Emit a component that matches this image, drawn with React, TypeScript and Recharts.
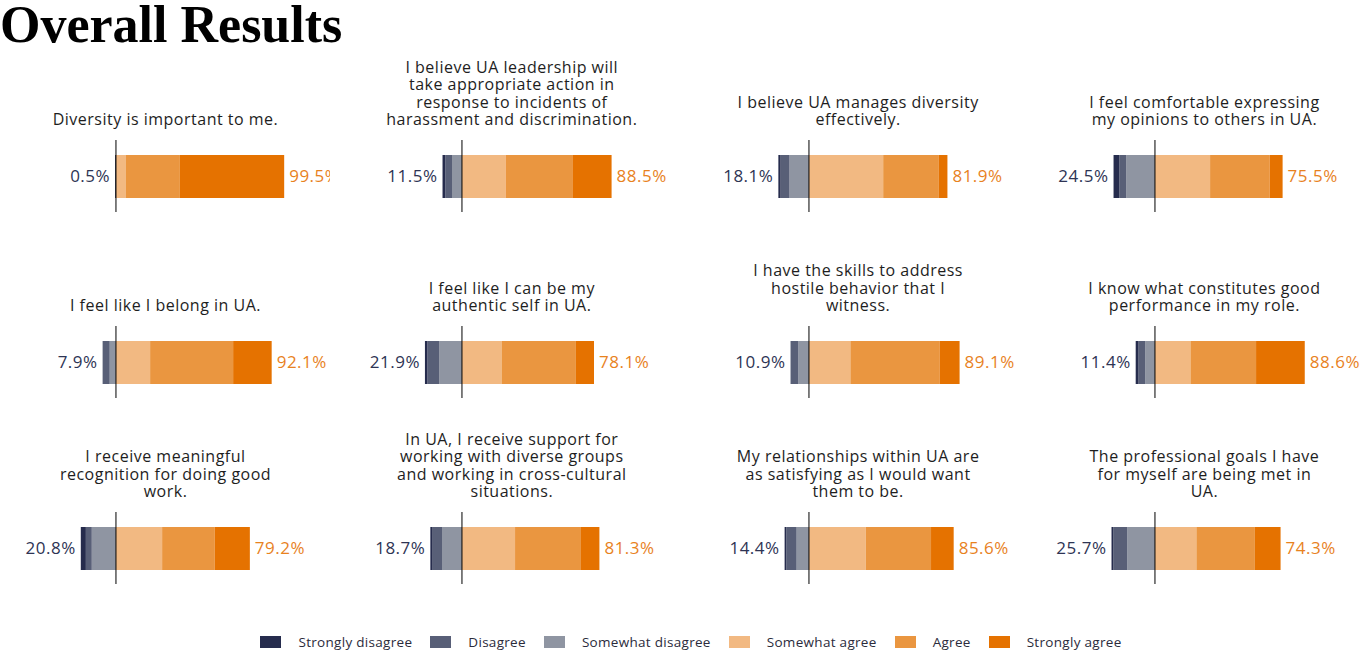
import React from "react";
import { BarChart, Bar, XAxis, YAxis, ReferenceLine, ReferenceDot } from "recharts";

const questions = [
  "Diversity is important to me.",
  "I believe UA leadership will\ntake appropriate action in\nresponse to incidents of\nharassment and discrimination.",
  "I believe UA manages diversity\neffectively.",
  "I feel comfortable expressing\nmy opinions to others in UA.",
  "I feel like I belong in UA.",
  "I feel like I can be my\nauthentic self in UA.",
  "I have the skills to address\nhostile behavior that I\nwitness.",
  "I know what constitutes good\nperformance in my role.",
  "I receive meaningful\nrecognition for doing good\nwork.",
  "In UA, I receive support for\nworking with diverse groups\nand working in cross-cultural\nsituations.",
  "My relationships within UA are\nas satisfying as I would want\nthem to be.",
  "The professional goals I have\nfor myself are being met in\nUA.",
];

// percentages per answer, same order as questions
const stronglyDisagree = [0.5, 1.7, 1.0, 3.5, 0, 1.5, 0, 1.7, 3.0, 1.0, 1.0, 1.0];
const disagree = [0, 3.9, 5.6, 4.0, 4.2, 6.9, 4.5, 3.9, 3.5, 5.9, 6.1, 8.3];
const somewhatDisagree = [0, 5.9, 11.5, 17.0, 3.7, 13.5, 6.4, 5.8, 14.3, 11.8, 7.3, 16.4];
const somewhatAgree = [5.9, 26.0, 43.9, 32.6, 20.2, 23.4, 24.5, 21.0, 27.3, 31.4, 33.6, 24.5];
const agree = [31.9, 39.3, 32.7, 35.2, 49.1, 44.0, 52.9, 38.8, 31.0, 39.0, 38.6, 34.6];
const stronglyAgree = [61.7, 23.2, 5.3, 7.7, 22.8, 10.7, 11.7, 28.8, 20.9, 10.9, 13.4, 15.2];

const disagreeTotals = [0.5, 11.5, 18.1, 24.5, 7.9, 21.9, 10.9, 11.4, 20.8, 18.7, 14.4, 25.7];
const agreeTotals = [99.5, 88.5, 81.9, 75.5, 92.1, 78.1, 89.1, 88.6, 79.2, 81.3, 85.6, 74.3];

const legendItems = [
  { label: "Strongly disagree", color: "#262c4d" },
  { label: "Disagree", color: "#585f77" },
  { label: "Somewhat disagree", color: "#8f95a2" },
  { label: "Somewhat agree", color: "#f2b982" },
  { label: "Agree", color: "#ea9640" },
  { label: "Strongly agree", color: "#e57200" },
];

const FONT = "'Open Sans', sans-serif";
const NAVY = "#2e3454";
const ORANGE = "#e8821e";

function Panel({ i }: { i: number }) {
  const col = i % 4;
  const row = Math.floor(i / 4);
  const left = 1 + col * 346.3;
  const top = 140 + row * 186;
  const data = [
    {
      name: "q",
      swd: -somewhatDisagree[i],
      d: -disagree[i],
      sd: -stronglyDisagree[i],
      swa: somewhatAgree[i],
      a: agree[i],
      sa: stronglyAgree[i],
    },
  ];
  const labelStyle = { fontSize: 17, fontFamily: FONT, letterSpacing: 0.5 };
  return (
    <>
      <div
        style={{
          position: "absolute",
          left: left - 20,
          width: 369,
          top: top - 120,
          height: 109,
          display: "flex",
          alignItems: "flex-end",
          justifyContent: "center",
          textAlign: "center",
          whiteSpace: "pre-line",
          fontFamily: FONT,
          fontSize: 16,
          letterSpacing: 0.5,
          lineHeight: "17.6px",
          color: "#1e1e1e",
        }}
      >
        {questions[i]}
      </div>
      <div style={{ position: "absolute", left, top }}>
        <BarChart
          width={329}
          height={72}
          data={data}
          layout="vertical"
          stackOffset="sign"
          barCategoryGap={0}
          margin={{ top: 0, right: 0, bottom: 0, left: 0 }}
        >
          <XAxis type="number" domain={[-68, 126.6]} hide />
          <YAxis type="category" dataKey="name" hide />
          <Bar dataKey="swd" stackId="s" fill="#8f95a2" barSize={43} isAnimationActive={false} />
          <Bar dataKey="d" stackId="s" fill="#585f77" barSize={43} isAnimationActive={false} />
          <Bar dataKey="sd" stackId="s" fill="#262c4d" barSize={43} isAnimationActive={false} />
          <Bar dataKey="swa" stackId="s" fill="#f2b982" barSize={43} isAnimationActive={false} />
          <Bar dataKey="a" stackId="s" fill="#ea9640" barSize={43} isAnimationActive={false} />
          <Bar dataKey="sa" stackId="s" fill="#e57200" barSize={43} isAnimationActive={false} />
          <ReferenceLine x={0} stroke="#000" strokeWidth={1} />
          <ReferenceDot
            x={-disagreeTotals[i]}
            y="q"
            r={0}
            fill="none"
            stroke="none"
            ifOverflow="visible"
            label={{ value: `${disagreeTotals[i]}%`, position: "left", offset: 5, fill: NAVY, ...labelStyle }}
          />
          <ReferenceDot
            x={agreeTotals[i]}
            y="q"
            r={0}
            fill="none"
            stroke="none"
            ifOverflow="visible"
            label={{ value: `${agreeTotals[i]}%`, position: "right", offset: 5, fill: ORANGE, ...labelStyle }}
          />
        </BarChart>
      </div>
    </>
  );
}

export default function App() {
  return (
    <div style={{ position: "absolute", left: 0, top: 0, width: 1370, height: 664, background: "#fff", overflow: "hidden" }}>
      <div
        style={{
          position: "absolute",
          left: 0,
          top: 2,
          fontFamily: "'Liberation Serif', serif",
          fontWeight: 900,
          fontSize: 52,
          lineHeight: "46px",
          color: "#000",
          whiteSpace: "nowrap",
        }}
      >
        Overall Results
      </div>
      {questions.map((_, i) => (
        <Panel key={i} i={i} />
      ))}
      <div
        style={{
          position: "absolute",
          left: 6,
          width: 1370,
          top: 633,
          display: "flex",
          justifyContent: "center",
          gap: 18,
          fontFamily: FONT,
          fontSize: 13.5,
          letterSpacing: 0.3,
          color: "#2b2b3b",
        }}
      >
        {legendItems.map((it) => (
          <div key={it.label} style={{ display: "flex", alignItems: "center" }}>
            <span style={{ display: "inline-block", width: 21, height: 12, background: it.color, marginRight: 17 }} />
            <span>{it.label}</span>
          </div>
        ))}
      </div>
    </div>
  );
}
